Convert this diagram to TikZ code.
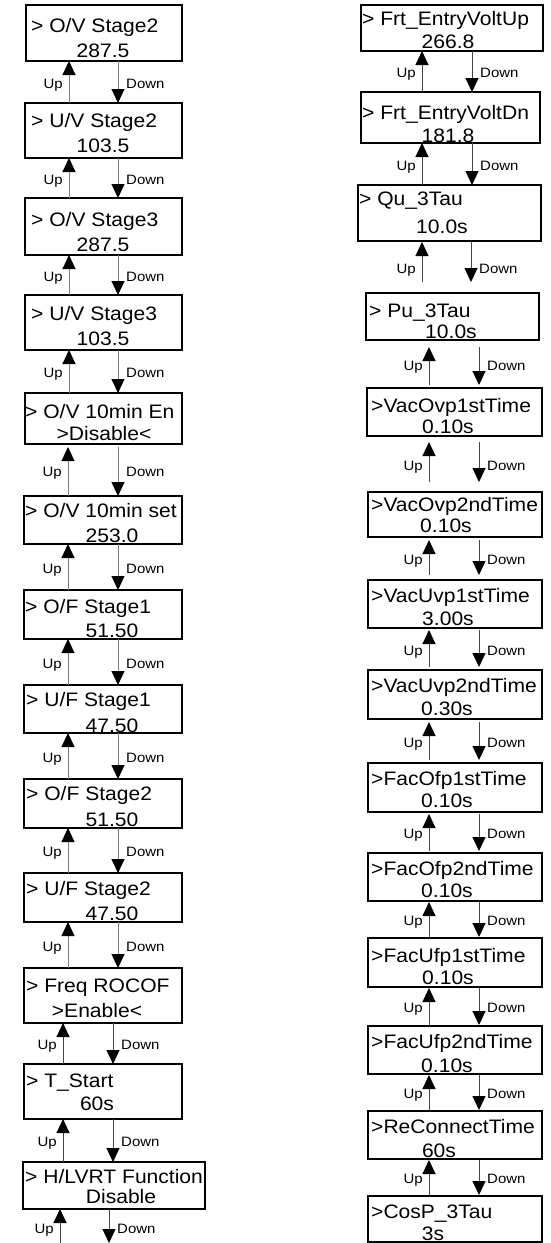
\documentclass[tikz,border=0pt]{standalone}
\usepackage{fontspec}
\usepackage{graphicx}
\setmainfont{Liberation Sans}
\usetikzlibrary{arrows.meta,calc}
\definecolor{lgray}{RGB}{125,125,125}
\definecolor{rgray}{RGB}{70,70,70}
\tikzset{
  box/.style={draw=black, line width=1.2pt, inner sep=0pt, outer sep=0pt, anchor=north west},
  tone/.style={anchor=base west, inner sep=0pt, font=\fontsize{19.5}{19.5}\selectfont},
  ttwo/.style={anchor=base, inner sep=0pt, font=\fontsize{19.5}{19.5}\selectfont},
  lbl/.style={inner sep=0pt, font=\fontsize{13.6}{13.6}\selectfont},
  arr/.style={line width=1pt, -{Triangle[width=13pt,length=14pt,color=black]}},
  larr/.style={arr, draw=lgray},
  rarr/.style={arr, draw=rgray},
}
\newcommand\wide[1]{\scalebox{1.08}[1]{#1}}
% box: name, x1, y1, x2, y2
\newcommand\mybox[5]{\node[box, minimum width={(#4-#2)*1pt}, minimum height={(#5-#3)*1pt}] (#1) at (#2,#3) {};}
% texts: name, x of line 1, baseline 1, text 1, centre of line 2, baseline 2, text 2
\newcommand\mytext[7]{\node[tone] (#1-a) at (#2,#3) {\wide{#4}};\node[ttwo] (#1-b) at (#5,#6) {\wide{#7}};}
% link: upper, lower, up x, down x, arrow style, gap at upper, gap at lower
\newcommand\mylink[7]{%
  \coordinate (#1-ux) at (#3,0);
  \coordinate (#1-dx) at (#4,0);
  \draw[#5, shorten <=#7pt, shorten >=#6pt] (#2.north -| #1-ux) -- (#1.south -| #1-ux);
  \draw[#5, shorten <=#6pt, shorten >=#7pt] (#1.south -| #1-dx) -- (#2.north -| #1-dx);
  \node[lbl, anchor=base east] (#1-up) at ($(#1.south -| #1-ux)!0.5!(#2.north -| #1-ux)+(-6,6)$) {\scalebox{1.1}[1]{Up}};
  \node[lbl, anchor=base west] (#1-down) at ($(#1.south -| #1-dx)!0.5!(#2.north -| #1-dx)+(8,6)$) {\scalebox{1.1}[1]{Down}};
}
\begin{document}
\begin{tikzpicture}[x=1pt,y=-1pt]
\useasboundingbox[fill=white] (0,0) rectangle (551,1243);
% ---------------- left column
\mybox{B1}{26}{5}{182}{61}
\mybox{B2}{25}{103}{182}{158}
\mybox{B3}{25}{198}{182}{255}
\mybox{B4}{25}{295}{182}{350}
\mybox{B5}{25}{393}{182}{444}
\mybox{B6}{24}{496}{182}{544}
\mybox{B7}{24}{590}{182}{639}
\mybox{B8}{24}{685}{182}{733}
\mybox{B9}{24}{779}{182}{828}
\mybox{B10}{24}{873}{182}{922}
\mybox{B11}{24}{968}{182}{1023}
\mybox{B12}{24}{1064}{182}{1119}
\mybox{B13}{23}{1162}{205}{1209}
\mytext{B1}{31}{32}{> O/V Stage2}{103}{57}{287.5}
\mytext{B2}{31}{127}{> U/V Stage2}{103}{152}{103.5}
\mytext{B3}{31}{226}{> O/V Stage3}{103}{251}{287.5}
\mytext{B4}{31}{320}{> U/V Stage3}{103}{345}{103.5}
\mytext{B5}{25}{418}{> O/V 10min En}{104}{440}{>Disable<}
\mytext{B6}{25}{517}{> O/V 10min set}{112}{542}{253.0}
\mytext{B7}{25}{613}{> O/F Stage1}{112}{637}{51.50}
\mytext{B8}{26}{706}{> U/F Stage1}{112}{732}{47.50}
\mytext{B9}{26}{800}{> O/F Stage2}{112}{826}{51.50}
\mytext{B10}{26}{895}{> U/F Stage2}{112}{920}{47.50}
\mytext{B11}{26}{992}{> Freq ROCOF}{97}{1017}{>Enable<}
\mytext{B12}{26}{1087}{> T\_Start}{97}{1110}{60s}
\mytext{B13}{25}{1183}{> H/LVRT Function}{121}{1203}{Disable}
\mylink{B1}{B2}{69}{118}{larr}{0}{0}
\mylink{B2}{B3}{69}{118}{larr}{0}{0}
\mylink{B3}{B4}{69}{118}{larr}{0}{0}
\mylink{B4}{B5}{69}{118}{larr}{0}{0}
\mylink{B5}{B6}{68}{118}{larr}{3}{0}
\mylink{B6}{B7}{68}{118}{larr}{0}{0}
\mylink{B7}{B8}{68}{118}{larr}{0}{0}
\mylink{B8}{B9}{68}{118}{larr}{0}{0}
\mylink{B9}{B10}{68}{118}{larr}{0}{0}
\mylink{B10}{B11}{68}{118}{larr}{0}{0}
\mylink{B11}{B12}{63}{113}{rarr}{0}{0}
\mylink{B12}{B13}{63}{113}{rarr}{0}{0}
\coordinate (B13-ux) at (60,1243);
\coordinate (B13-dx) at (109,1243);
\draw[rarr] (B13-ux) -- (B13.south -| B13-ux);
\draw[rarr] (B13.south -| B13-dx) -- (B13-dx);
\node[lbl, anchor=base east] (B13-up) at ($(B13-ux)+(-6,-10)$) {\scalebox{1.1}[1]{Up}};
\node[lbl, anchor=base west] (B13-down) at ($(B13-dx)+(8,-10)$) {\scalebox{1.1}[1]{Down}};
% ---------------- right column
\mybox{R1}{361}{5}{543}{51}
\mybox{R2}{361}{92}{540}{143}
\mybox{R3}{358}{185}{541}{241}
\mybox{R4}{366}{293}{539}{340}
\mybox{R5}{367}{388}{542}{436}
\mybox{R6}{368}{492}{542}{537}
\mybox{R7}{368}{580}{542}{628}
\mybox{R8}{368}{670}{542}{719}
\mybox{R9}{368}{763}{542}{812}
\mybox{R10}{368}{853}{542}{901}
\mybox{R11}{368}{938}{542}{987}
\mybox{R12}{368}{1026}{542}{1074}
\mybox{R13}{368}{1111}{542}{1159}
\mybox{R14}{368}{1196}{542}{1242}
\mytext{R1}{362}{25}{> Frt\_EntryVoltUp}{448}{48}{266.8}
\mytext{R2}{362}{119}{> Frt\_EntryVoltDn}{448}{142}{181.8}
\mytext{R3}{359}{205}{> Qu\_3Tau}{442}{233}{10.0s}
\mytext{R4}{369}{317}{> Pu\_3Tau}{451}{338}{10.0s}
\mytext{R5}{371}{412}{>VacOvp1stTime}{448}{433}{0.10s}
\mytext{R6}{371}{511}{>VacOvp2ndTime}{446}{532}{0.10s}
\mytext{R7}{371}{602}{>VacUvp1stTime}{448}{625}{3.00s}
\mytext{R8}{371}{692}{>VacUvp2ndTime}{447}{715}{0.30s}
\mytext{R9}{371}{785}{>FacOfp1stTime}{447}{807}{0.10s}
\mytext{R10}{371}{875}{>FacOfp2ndTime}{447}{897}{0.10s}
\mytext{R11}{371}{962}{>FacUfp1stTime}{448}{984}{0.10s}
\mytext{R12}{371}{1048}{>FacUfp2ndTime}{447}{1072}{0.10s}
\mytext{R13}{371}{1133}{>ReConnectTime}{439}{1157}{60s}
\mytext{R14}{371}{1218}{>CosP\_3Tau}{433}{1240}{3s}
\mylink{R1}{R2}{422}{472}{rarr}{0}{0}
\mylink{R2}{R3}{422}{472}{rarr}{0}{0}
\mylink{R3}{R4}{422}{471}{rarr}{1}{11}
\mylink{R4}{R5}{429}{479}{rarr}{7}{3}
\mylink{R5}{R6}{429}{479}{rarr}{6}{10}
\mylink{R6}{R7}{429}{479}{rarr}{3}{5}
\mylink{R7}{R8}{429}{479}{rarr}{2}{3}
\mylink{R8}{R9}{429}{479}{rarr}{3}{3}
\mylink{R9}{R10}{429}{479}{rarr}{2}{2}
\mylink{R10}{R11}{429}{479}{rarr}{1}{1}
\mylink{R11}{R12}{429}{479}{rarr}{1}{1}
\mylink{R12}{R13}{429}{479}{rarr}{1}{1}
\mylink{R13}{R14}{429}{479}{rarr}{1}{1}
\end{tikzpicture}
\end{document}
